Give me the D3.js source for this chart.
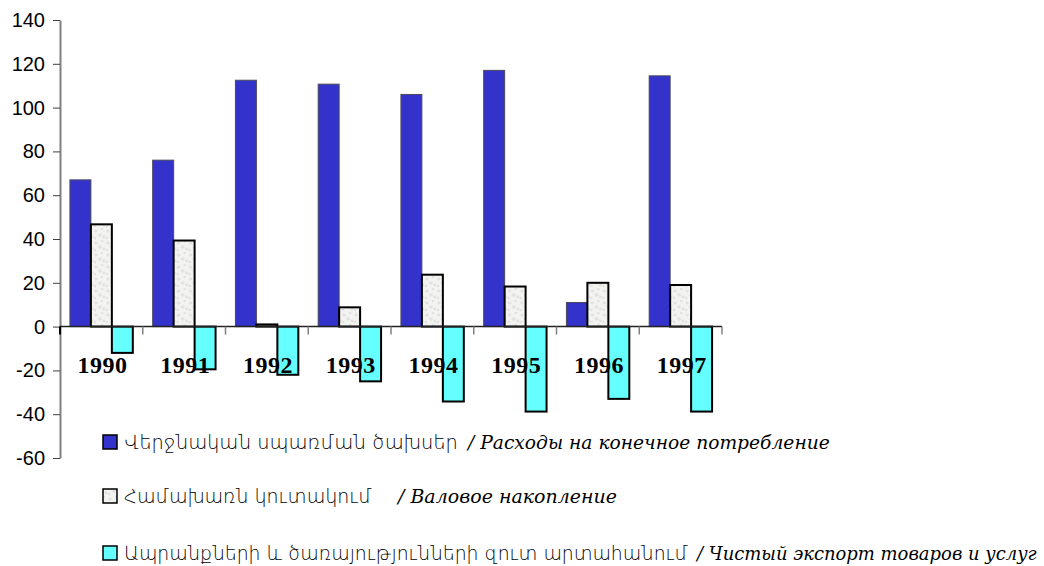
<!DOCTYPE html>
<html>
<head>
<meta charset="utf-8">
<script src="https://cdn.jsdelivr.net/npm/d3@7"></script>
<style>
  body { margin: 0; background: #fff; }
  svg { display: block; }
</style>
</head>
<body>
<script>
// data
const years = ['1990', '1991', '1992', '1993', '1994', '1995', '1996', '1997']
const consumption = [67, 76, 112.5, 110.7, 106, 117, 11, 114.5]
const accumulation = [46.7, 39.3, 1, 8.8, 23.7, 18.3, 20, 19]
const netExport = [-12, -19.5, -22, -25, -34.2, -38.8, -33, -38.8]
const yTicks = [-60, -40, -20, 0, 20, 40, 60, 80, 100, 120, 140]

// legend texts; hyW / ruW = how wide each piece is in the picture
const seriesNames = [
    { hy: 'Վերջնական սպառման ծախսեր', hyW: 334, ru: '/ Расходы на конечное потребление', ruX: 468, ruW: 362 },
    { hy: 'Համախառն կուտակում', hyW: 248, ru: '/ Валовое накопление', ruX: 398, ruW: 219 },
    { hy: 'Ապրանքների և ծառայությունների զուտ արտահանում', hyW: 564, ru: '/ Чистый экспорт товаров и услуг', ruX: 697, ruW: 340 }
]
const seriesValues = [consumption, accumulation, netExport]

const width = 1044
const height = 566
const plotLeft = 60, plotRight = 722, plotTop = 20, plotBottom = 458

const svg = d3.select('body')
    .append('svg')
    .attr('width', width)
    .attr('height', height)

// speckled light grey fill for the middle series
const defs = svg.append('defs')
const pat = defs.append('pattern')
    .attr('id', 'speckle')
    .attr('patternUnits', 'userSpaceOnUse')
    .attr('width', 12)
    .attr('height', 12)
pat.append('rect').attr('width', 12).attr('height', 12).attr('fill', '#f3f3f1')
const spots = [[2, 3, 1.6], [8, 1, 1.2], [6, 7, 1.8], [1, 10, 1.2], [10, 9, 1.4]]
pat.selectAll('circle')
    .data(spots)
    .enter()
    .append('circle')
    .attr('cx', d => d[0])
    .attr('cy', d => d[1])
    .attr('r', d => d[2])
    .attr('fill', '#e0e0de')

const fills = ['#3333cc', 'url(#speckle)', '#66ffff']
const strokes = ['#4a4a5a', '#000', '#000']
const strokeW = [1, 2, 2]

const y = d3.scaleLinear().domain([-60, 140]).range([plotBottom, plotTop])

const x0 = d3.scaleBand()
    .domain(years)
    .range([plotLeft, plotRight])
    .paddingInner(0.24)
    .paddingOuter(0.12)

const x1 = d3.scaleBand()
    .domain([0, 1, 2])
    .range([0, x0.bandwidth()])

const step = x0.step()

// bars
const groups = svg.append('g')
    .selectAll('g')
    .data(years)
    .enter()
    .append('g')
    .attr('transform', d => 'translate(' + x0(d) + ',0)')

groups.selectAll('rect')
    .data((d, i) => seriesValues.map((vals, s) => ({ s: s, v: vals[i] })))
    .enter()
    .append('rect')
    .attr('x', d => x1(d.s))
    .attr('width', x1.bandwidth())
    .attr('y', d => y(Math.max(0, d.v)))
    .attr('height', d => Math.abs(y(d.v) - y(0)))
    .attr('fill', d => fills[d.s])
    .attr('stroke', d => strokes[d.s])
    .attr('stroke-width', d => strokeW[d.s])

// y axis
const yAxis = d3.axisLeft(y)
    .tickValues(yTicks)
    .tickFormat(d => String(d))   // plain hyphen, not the unicode minus
    .tickSize(7)
    .tickSizeOuter(0)
    .tickPadding(8)

const ya = svg.append('g')
    .attr('transform', 'translate(' + plotLeft + ',0)')
    .call(yAxis)
ya.select('.domain').attr('stroke', '#808080').attr('stroke-width', 2)
ya.selectAll('.tick line').attr('stroke', '#404040')
ya.selectAll('.tick text')
    .attr('fill', '#000')
    .style('font-family', '"Liberation Sans", Arial, sans-serif')
    .style('font-size', '20px')

// zero line with category tick marks below it
const xBounds = years.map((d, i) => plotLeft + i * step).concat([plotRight])
svg.append('line')
    .attr('x1', plotLeft)
    .attr('x2', plotRight)
    .attr('y1', y(0))
    .attr('y2', y(0))
    .attr('stroke', '#222')
    .attr('stroke-width', 1.5)
svg.append('g')
    .selectAll('line')
    .data(xBounds)
    .enter()
    .append('line')
    .attr('x1', d => d)
    .attr('x2', d => d)
    .attr('y1', y(0))
    .attr('y2', y(0) + 8)
    .attr('stroke', (d, i) => i === 0 ? '#000' : '#808080')
    .attr('stroke-width', (d, i) => i === 0 ? 2 : 1.5)

// year labels, drawn over the bars
svg.append('g')
    .selectAll('text')
    .data(years)
    .enter()
    .append('text')
    .attr('x', d => x0(d) + x0.bandwidth() / 2 + 1)
    .attr('y', y(0) + 46)
    .attr('text-anchor', 'middle')
    .style('font-family', '"Liberation Serif", "Times New Roman", serif')
    .style('font-size', '24px')
    .style('font-weight', 'bold')
    .style('letter-spacing', '0.5px')
    .text(d => d)

// legend
const legendY = [442, 496, 553]
const legend = svg.append('g').attr('id', 'legend')
const items = legend.selectAll('g')
    .data(seriesNames)
    .enter()
    .append('g')
    .attr('transform', (d, i) => 'translate(0,' + legendY[i] + ')')

items.append('rect')
    .attr('x', 103)
    .attr('y', -7)
    .attr('width', 14)
    .attr('height', 14)
    .attr('fill', (d, i) => fills[i])
    .attr('stroke', '#000')
    .attr('stroke-width', 1.5)

// size a text so it spans about as wide as in the picture
function fitWidth(sel, base, key) {
    sel.style('font-size', base + 'px')
    sel.each(function (d) {
        const w = this.getComputedTextLength()
        if (w > 0) d3.select(this).style('font-size', (base * d[key] / w).toFixed(2) + 'px')
    })
}

const hyText = items.append('text')
    .attr('x', 124)
    .attr('y', 7)
    .style('font-family', '"DejaVu Sans", sans-serif')
    .style('font-weight', '300')
    .text(d => d.hy)
fitWidth(hyText, 19, 'hyW')

const ruText = items.append('text')
    .attr('x', d => d.ruX)
    .attr('y', 7)
    .style('font-family', '"DejaVu Serif", serif')
    .style('font-style', 'italic')
    .text(d => d.ru)
fitWidth(ruText, 20, 'ruW')
</script>
</body>
</html>
